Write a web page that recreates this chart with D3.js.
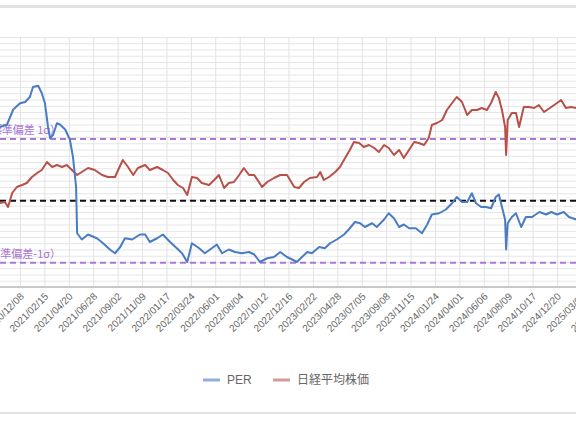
<!DOCTYPE html>
<html>
<head>
<meta charset="utf-8">
<script src="https://cdn.jsdelivr.net/npm/d3@7"></script>
<style>
  body { margin: 0; background: #fff; overflow: hidden; }
  svg { display: block; }
</style>
</head>
<body>
<div id="chart"></div>
<script>
// tick labels, one every 47 trading days (first one sits left of the crop)
const tickLabels = ["2020/10/05", "2020/12/08", "2021/02/15", "2021/04/20", "2021/06/28", "2021/09/02",
  "2021/11/09", "2022/01/17", "2022/03/24", "2022/06/01", "2022/08/04", "2022/10/12", "2022/12/16",
  "2023/02/22", "2023/04/28", "2023/07/05", "2023/09/08", "2023/11/15", "2024/01/24", "2024/04/01",
  "2024/06/06", "2024/08/09", "2024/10/17", "2024/12/20", "2025/03/06", "2025/05/14"]

// PER (trading day index from 2020/12/08, value)
const perDays = [-39, -25, -13, 0, 10, 19, 25, 35, 42, 48, 54, 58, 64, 71, 77, 87, 96, 102, 108, 110,
  119, 131, 148, 160, 173, 183, 193, 202, 216, 231, 241, 250, 264, 275, 289, 302, 312, 322, 331, 345,
  356, 366, 379, 389, 402, 414, 427, 441, 451, 462, 476, 489, 501, 514, 524, 533, 543, 553, 562, 576,
  587, 597, 610, 624, 633, 645, 655, 664, 678, 687, 701, 710, 720, 730, 739, 749, 762, 774, 784, 793,
  807, 820, 832, 841, 851, 861, 870, 878, 888, 897, 907, 916, 922, 928, 934, 936, 939, 947, 955, 965,
  974, 986, 1000, 1013, 1023, 1034, 1047, 1057, 1071]
const perValues = [22.8, 23.0, 24.2, 24.7, 24.8, 25.2, 26.0, 26.1, 25.5, 24.7, 22.8, 21.9, 22.2, 23.1, 23.0,
  22.6, 21.8, 20.4, 18.0, 14.3, 13.8, 14.2, 13.9, 13.5, 13.0, 12.7, 13.2, 13.9, 13.8, 14.2, 14.2, 13.6,
  13.9, 14.2, 13.6, 13.1, 12.7, 12.0, 13.5, 13.1, 12.7, 13.0, 13.4, 12.7, 13.0, 12.8, 12.7, 12.8, 12.6,
  12.0, 12.3, 12.4, 12.8, 12.4, 12.2, 12.0, 12.4, 12.8, 12.7, 13.2, 13.1, 13.5, 13.8, 14.2, 14.6, 15.2,
  15.1, 14.8, 15.1, 14.8, 15.4, 15.9, 15.5, 14.8, 15.0, 14.7, 14.7, 14.3, 15.0, 15.8, 15.9, 16.2, 16.7,
  17.2, 16.8, 16.8, 17.5, 16.7, 16.4, 16.4, 16.3, 17.2, 17.4, 16.4, 15.4, 13.0, 15.1, 15.6, 15.9, 14.8,
  15.6, 15.6, 16.0, 15.8, 16.0, 15.8, 16.0, 15.6, 15.4]

// Nikkei 225 close
const nikkeiDays = [-39, -29, -23, -15, -6, 4, 13, 23, 33, 42, 52, 62, 71, 81, 90, 100, 110, 119, 131, 144,
  158, 169, 183, 189, 198, 208, 218, 227, 241, 250, 264, 275, 285, 295, 304, 314, 322, 331, 341, 350,
  364, 374, 383, 393, 402, 412, 422, 431, 441, 451, 460, 466, 476, 489, 501, 514, 520, 528, 537, 547,
  558, 572, 578, 585, 595, 607, 616, 626, 635, 643, 653, 662, 672, 682, 691, 701, 710, 720, 730, 739,
  749, 759, 768, 778, 787, 793, 803, 813, 822, 832, 841, 851, 861, 870, 880, 889, 899, 907, 916, 922,
  928, 934, 936, 939, 947, 955, 961, 970, 980, 990, 999, 1009, 1023, 1034, 1042, 1051, 1061, 1071]
const nikkeiValues = [23440, 23600, 22800, 25040, 26000, 26320, 26640, 27600, 28240, 28720, 30000, 29200,
  29520, 29200, 29520, 28720, 27920, 28400, 29040, 28720, 27920, 27600, 27600, 28720, 30320, 29200, 27920,
  29040, 29520, 28720, 29200, 28720, 28240, 27120, 26320, 25840, 24720, 27600, 27440, 26640, 26320, 27120,
  27920, 25840, 26640, 26800, 27920, 29040, 27920, 27920, 26800, 26000, 26800, 27440, 27920, 27920, 27120,
  26000, 25840, 26800, 27440, 27600, 28400, 27120, 27600, 28400, 29200, 30640, 31920, 33200, 33040, 32400,
  32720, 32240, 31600, 32720, 32240, 31120, 31920, 30640, 31920, 33200, 33040, 32720, 33840, 35920, 36240,
  36720, 38320, 39440, 40400, 39600, 37520, 38320, 38320, 38640, 38320, 39440, 41200, 40240, 38320, 35600,
  31120, 36720, 37840, 37840, 35600, 38800, 38800, 38640, 39120, 38000, 38800, 39440, 39920, 38640, 38800, 38640]

// PER band: mean and one standard deviation
const perMean = 16.9
const perSd = 4.95

const W = 576, H = 430
const plotTop = 37, plotBottom = 287

const svg = d3.select("#chart").append("svg")
  .attr("width", W).attr("height", H)
  .style("font-family", "'Liberation Sans', Arial, 'Noto Sans CJK JP', sans-serif")

// card edges
svg.append("rect").attr("x", 0).attr("y", 5).attr("width", W).attr("height", 3).attr("fill", "#e3e3e3")
svg.append("rect").attr("x", 0).attr("y", 412).attr("width", W).attr("height", 2).attr("fill", "#e3e3e3")

var xScale = d3.scaleLinear().domain([0, 47]).range([20, 20 + 24.41])
var perY = d3.scaleLinear().domain([10, 30]).range([plotBottom, plotTop])
var nkY = d3.scaleLinear().domain([10000, 50000]).range([plotBottom, plotTop])

const tickDays = tickLabels.map((d, i) => (i - 1) * 47)

// horizontal grid
svg.append("g")
  .call(d3.axisLeft(perY).tickValues(d3.range(10, 30.01, 0.5)).tickSize(-W).tickFormat(""))
  .call(g => g.select(".domain").remove())
  .selectAll("line").attr("stroke", "#e6e6e6").attr("stroke-width", 1)

// vertical grid
svg.append("g")
  .attr("transform", `translate(0,${plotBottom})`)
  .call(d3.axisBottom(xScale).tickValues(tickDays).tickSize(-(plotBottom - plotTop)).tickFormat(""))
  .call(g => g.select(".domain").remove())
  .selectAll("line").attr("stroke", "#e3e3e3")

// x axis line
svg.append("line").attr("x1", 0).attr("x2", W).attr("y1", plotBottom).attr("y2", plotBottom)
  .attr("stroke", "#c8c8c8").attr("stroke-width", 2)

// x labels
svg.append("g")
  .attr("transform", `translate(0,${plotBottom})`)
  .call(d3.axisBottom(xScale).tickValues(tickDays).tickSize(0).tickFormat((d, i) => tickLabels[i]))
  .call(g => g.select(".domain").remove())
  .selectAll("text")
  .attr("fill", "#666").style("font-size", "10px")
  .style("text-anchor", "end")
  .attr("dx", 0).attr("dy", 0)
  .attr("transform", "translate(2,8) rotate(-45)")

// reference lines
const refs = [
  { v: perMean + perSd, color: "#a977d6", label: "平均+1σ（標準偏差 1σ）" },
  { v: perMean, color: "#111", label: "" },
  { v: perMean - perSd, color: "#a977d6", label: "平均-1σ（標準偏差-1σ）" }
]
refs.forEach(r => {
  svg.append("line")
    .attr("x1", 0).attr("x2", W)
    .attr("y1", perY(r.v)).attr("y2", perY(r.v))
    .attr("stroke", r.color).attr("stroke-width", 2)
    .attr("stroke-dasharray", "6,4")
  if (r.label) {
    svg.append("text")
      .attr("x", 61).attr("y", perY(r.v) - 5)
      .attr("text-anchor", "end")
      .attr("fill", r.color)
      .style("font-size", "11px")
      .style("font-family", "'Noto Sans CJK JP', sans-serif")
      .text(r.label)
  }
})

// series
const perLine = d3.line().x(d => xScale(d[0])).y(d => perY(d[1]))
const nkLine = d3.line().x(d => xScale(d[0])).y(d => nkY(d[1]))

svg.append("path")
  .datum(d3.zip(nikkeiDays, nikkeiValues))
  .attr("fill", "none").attr("stroke", "#b8504a").attr("stroke-width", 2)
  .attr("stroke-linejoin", "round")
  .attr("d", nkLine)

svg.append("path")
  .datum(d3.zip(perDays, perValues))
  .attr("fill", "none").attr("stroke", "#4a7cc2").attr("stroke-width", 2)
  .attr("stroke-linejoin", "round")
  .attr("d", perLine)

// legend
const legend = [
  { name: "PER", color: "#8fb0dd", x: 203 },
  { name: "日経平均株価", color: "#d89a96", x: 273 }
]
legend.forEach(l => {
  svg.append("line")
    .attr("x1", l.x).attr("x2", l.x + 17).attr("y1", 380).attr("y2", 380)
    .attr("stroke", l.color).attr("stroke-width", 3)
  svg.append("text")
    .attr("x", l.x + 24).attr("y", 384)
    .attr("fill", "#666").style("font-size", "12px")
    .style("font-family", "'Liberation Sans', 'Noto Sans CJK JP', sans-serif")
    .text(l.name)
})
</script>
</body>
</html>
